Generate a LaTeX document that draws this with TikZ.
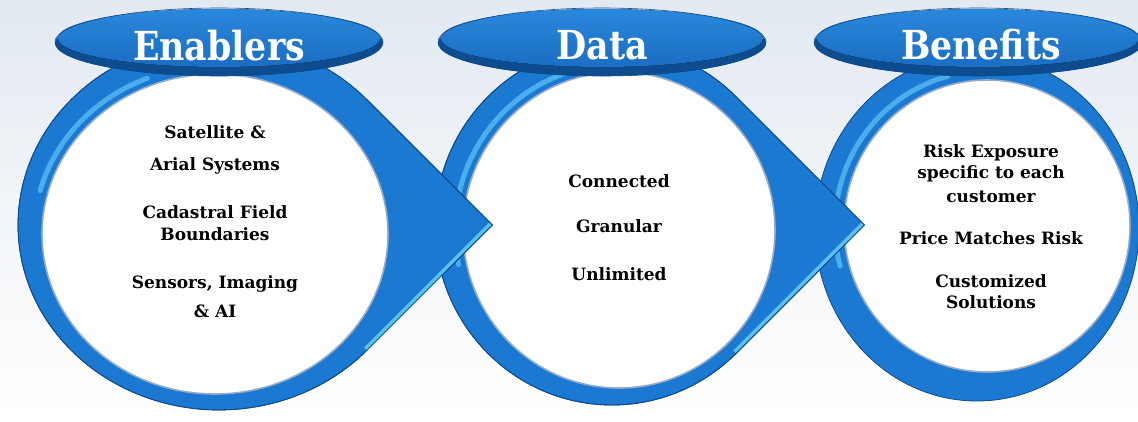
\documentclass[tikz,border=0pt]{standalone}
\usepackage{fontspec}
\setmainfont{DejaVu Serif}
\newfontfamily\hdrfont[FakeStretch=0.87]{DejaVu Serif}
\definecolor{ringblue}{HTML}{1B79D2}
\definecolor{ringdark}{HTML}{0B4A8E}
\definecolor{ringlight}{HTML}{5BC0F4}
\definecolor{innerline}{HTML}{94ABC9}
\definecolor{bgtop}{HTML}{E2E9F1}
\definecolor{hdrtop}{HTML}{2A88DC}
\definecolor{hdrmid}{HTML}{1A6DC2}
\definecolor{hdrdark}{HTML}{0E4C90}
\tikzset{
  ringfill/.style={fill=ringblue, draw=ringdark, line width=0.8pt},
  innerwhite/.style={fill=white, draw=innerline, line width=1.6pt},
  glow/.style={ringlight!75!ringblue, line width=5pt, line cap=round},
  edgeglow/.style={ringlight, line width=8pt},
  body/.style={font=\bfseries\fontsize{17}{20}\selectfont, text=black, inner sep=0pt, anchor=base},
  hdr/.style={font=\hdrfont\bfseries\fontsize{40}{44}\selectfont, text=white, inner sep=0pt, anchor=base},
}
\def\shapeone{(366.9,99.7) arc[start angle=42.62, end angle=317.38, x radius=201pt, y radius=185pt] -- (492.2,225) -- cycle}
\def\shapetwo{(736.1,96.7) arc[start angle=45.48, end angle=314.52, x radius=177pt, y radius=180pt] -- (864.4,225) -- cycle}
\def\shapethree{(977,228) ellipse[x radius=162pt, y radius=173pt]}
\begin{document}
\begin{tikzpicture}[x=1pt,y=-1pt]
\path[use as bounding box] (0,0) rectangle (1138,421);
\clip (0,0) rectangle (1138,421);
\shade[top color=bgtop, bottom color=white, middle color=bgtop!45] (0,0) rectangle (1138,421);
% ---- shape 3
\fill[ringfill] \shapethree;
\begin{scope}
  \clip \shapethree;
  \draw[glow] (987,226) ++(105:152pt and 155pt) arc[start angle=105, end angle=195, x radius=152pt, y radius=155pt];
\end{scope}
\draw[innerwhite] (987,226) ellipse[x radius=143pt, y radius=146pt];
% ---- shape 2
\fill[ringfill] \shapetwo;
\begin{scope}
  \clip \shapetwo;
  \draw[glow] (619,230) ++(108:164pt and 166pt) arc[start angle=108, end angle=192, x radius=164pt, y radius=166pt];
  \draw[edgeglow] (864.4,225) -- (736.1,353.3);
\end{scope}
\draw[ringfill, fill=none] \shapetwo;
\draw[innerwhite] (619,230) ellipse[x radius=156pt, y radius=158pt];
% ---- shape 1
\fill[ringfill] \shapeone;
\begin{scope}
  \clip \shapeone;
  \draw[glow] (215,234) ++(112:181pt and 168pt) arc[start angle=112, end angle=165, x radius=181pt, y radius=168pt];
  \draw[edgeglow] (492.2,225) -- (366.9,350.3);
\end{scope}
\draw[ringfill, fill=none] \shapeone;
\draw[innerwhite] (215,234) ellipse[x radius=173pt, y radius=160pt];
% ---- headers
\foreach \hx in {219,602,978}{
  \fill[hdrdark] (\hx,43) ellipse[x radius=164pt, y radius=33pt];
  \fill[top color=hdrtop, bottom color=hdrmid] (\hx,38) ellipse[x radius=161pt, y radius=29pt];
  \draw[ringdark, line width=0.6pt] (\hx,42) ellipse[x radius=164pt, y radius=34pt];
}
\node[hdr] (h1) at (219,60) {Enablers};
\node[hdr] (h2) at (602,59) {Data};
\node[hdr] (h3) at (981,59) {Benefits};
% ---- texts
\node[body] (a1) at (215,138) {Satellite \&};
\node[body] (a2) at (215,170) {Arial Systems};
\node[body] (a3) at (215,218) {Cadastral Field};
\node[body] (a4) at (215,240) {Boundaries};
\node[body] (a5) at (215,288) {Sensors, Imaging};
\node[body] (a6) at (215,317) {\& AI};
\node[body] (b1) at (619,187) {Connected};
\node[body] (b2) at (619,232) {Granular};
\node[body] (b3) at (619,280) {Unlimited};
\node[body] (c1) at (991,157) {Risk Exposure};
\node[body] (c2) at (991,178) {specific to each};
\node[body] (c3) at (991,202) {customer};
\node[body] (c4) at (991,244) {Price Matches Risk};
\node[body] (c5) at (991,287) {Customized};
\node[body] (c6) at (991,308) {Solutions};
\end{tikzpicture}
\end{document}
